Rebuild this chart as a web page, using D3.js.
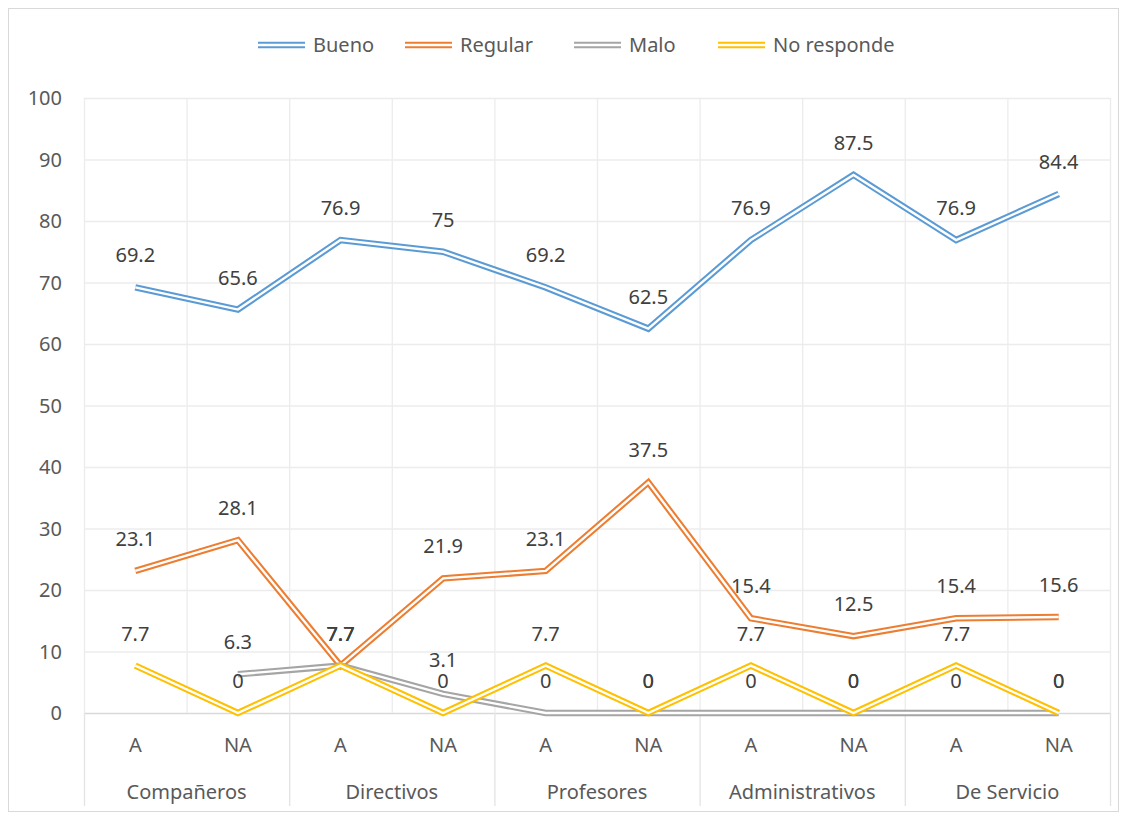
<!DOCTYPE html>
<html>
<head>
<meta charset="utf-8">
<script src="https://cdn.jsdelivr.net/npm/d3@7"></script>
<style>
  body { margin: 0; background: #fff; }
  text { font-family: "Noto Sans", sans-serif; }
</style>
</head>
<body>
<svg id="chart" width="1127" height="817"></svg>
<script>
const groups = ["Compañeros", "Directivos", "Profesores", "Administrativos", "De Servicio"];
const subLabels = ["A", "NA"];
const yTicks = [0, 10, 20, 30, 40, 50, 60, 70, 80, 90, 100];

const seriesNames = ["Bueno", "Regular", "Malo", "No responde"];
const bueno = [69.2, 65.6, 76.9, 75, 69.2, 62.5, 76.9, 87.5, 76.9, 84.4];
const regular = [23.1, 28.1, 7.7, 21.9, 23.1, 37.5, 15.4, 12.5, 15.4, 15.6];
const malo = [null, 6.3, 7.7, 3.1, 0, 0, 0, 0, 0, 0];
const noResponde = [7.7, 0, 7.7, 0, 7.7, 0, 7.7, 0, 7.7, 0];
const colors = ["#5B9BD5", "#ED7D31", "#A5A5A5", "#FFC000"];

const series = [bueno, regular, malo, noResponde].map((values, i) => ({
    name: seriesNames[i], values: values, color: colors[i]
}));

const svg = d3.select("#chart");

// chart border
svg.append("rect")
    .attr("x", 8.5).attr("y", 8.5)
    .attr("width", 1110).attr("height", 803)
    .attr("fill", "none")
    .attr("stroke", "#d9d9d9");

const plotLeft = 84, plotRight = 1110, plotTop = 98, plotBottom = 713;

const cats = d3.range(groups.length * subLabels.length);
const x = d3.scaleBand().domain(cats).range([plotLeft, plotRight]);
const y = d3.scaleLinear().domain([0, 100]).range([plotBottom, plotTop]);

// horizontal gridlines
svg.append("g").selectAll("line")
    .data(yTicks)
    .enter().append("line")
    .attr("x1", plotLeft).attr("x2", plotRight)
    .attr("y1", d => y(d) + 0.5).attr("y2", d => y(d) + 0.5)
    .attr("stroke", d => d === 0 ? "#d9d9d9" : "#ececec")
    .attr("stroke-width", 1.3);

// vertical gridlines at category borders
svg.append("g").selectAll("line")
    .data(cats.concat([cats.length]))
    .enter().append("line")
    .attr("x1", d => (d < cats.length ? x(d) : plotRight) + 0.5)
    .attr("x2", d => (d < cats.length ? x(d) : plotRight) + 0.5)
    .attr("y1", plotTop).attr("y2", plotBottom)
    .attr("stroke", "#ececec")
    .attr("stroke-width", 1.3);

// y tick labels
svg.append("g").selectAll("text")
    .data(yTicks)
    .enter().append("text")
    .attr("x", 62)
    .attr("y", d => y(d))
    .attr("dy", "0.35em")
    .attr("text-anchor", "end")
    .attr("font-size", 20)
    .attr("fill", "#595959")
    .text(d => d);

// x axis: sub labels
svg.append("g").selectAll("text")
    .data(cats)
    .enter().append("text")
    .attr("x", d => x(d) + x.bandwidth() / 2)
    .attr("y", 745)
    .attr("dy", "0.35em")
    .attr("text-anchor", "middle")
    .attr("font-size", 20)
    .attr("fill", "#595959")
    .text(d => subLabels[d % subLabels.length]);

// group separators
const groupW = x.bandwidth() * subLabels.length;
svg.append("g").selectAll("line")
    .data(d3.range(groups.length + 1))
    .enter().append("line")
    .attr("x1", d => plotLeft + d * groupW + 0.5)
    .attr("x2", d => plotLeft + d * groupW + 0.5)
    .attr("y1", plotBottom).attr("y2", 806)
    .attr("stroke", "#e3e3e3")
    .attr("stroke-width", 1.3);

// group labels
svg.append("g").selectAll("text")
    .data(groups)
    .enter().append("text")
    .attr("x", (d, i) => plotLeft + (i + 0.5) * groupW)
    .attr("y", 792)
    .attr("dy", "0.35em")
    .attr("text-anchor", "middle")
    .attr("font-size", 20)
    .attr("fill", "#595959")
    .text(d => d);

// double lines
const line = d3.line()
    .defined(d => d.v != null)
    .x(d => x(d.i) + x.bandwidth() / 2)
    .y(d => y(d.v));

series.forEach(s => {
    const pts = s.values.map((v, i) => ({ i: i, v: v }));
    svg.append("path")
        .attr("d", line(pts))
        .attr("fill", "none")
        .attr("stroke", s.color)
        .attr("stroke-width", 6.5)
        .attr("stroke-linejoin", "miter");
    svg.append("path")
        .attr("d", line(pts))
        .attr("fill", "none")
        .attr("stroke", "#fff")
        .attr("stroke-width", 2.4)
        .attr("stroke-linejoin", "miter");
});

// data labels
series.forEach(s => {
    svg.append("g").selectAll("text")
        .data(s.values.map((v, i) => ({ i: i, v: v })).filter(d => d.v != null))
        .enter().append("text")
        .attr("x", d => x(d.i) + x.bandwidth() / 2)
        .attr("y", d => y(d.v) - (d.v > 0 && d.v < 5 ? 34 : 32))
        .attr("dy", "0.35em")
        .attr("text-anchor", "middle")
        .attr("font-size", 20)
        .attr("fill", "#404040")
        .text(d => d.v);
});

// legend
const legendX = [258, 405, 574, 718];
const legend = svg.append("g").selectAll("g")
    .data(series)
    .enter().append("g")
    .attr("transform", (d, i) => `translate(${legendX[i]},45)`);
legend.append("line")
    .attr("x1", 0).attr("x2", 47).attr("y1", 0).attr("y2", 0)
    .attr("stroke", d => d.color).attr("stroke-width", 6.5);
legend.append("line")
    .attr("x1", 0).attr("x2", 47).attr("y1", 0).attr("y2", 0)
    .attr("stroke", "#fff").attr("stroke-width", 2.4);
legend.append("text")
    .attr("x", 55)
    .attr("y", 0)
    .attr("dy", "0.35em")
    .attr("font-size", 20)
    .attr("fill", "#595959")
    .text(d => d.name);
</script>
</body>
</html>
